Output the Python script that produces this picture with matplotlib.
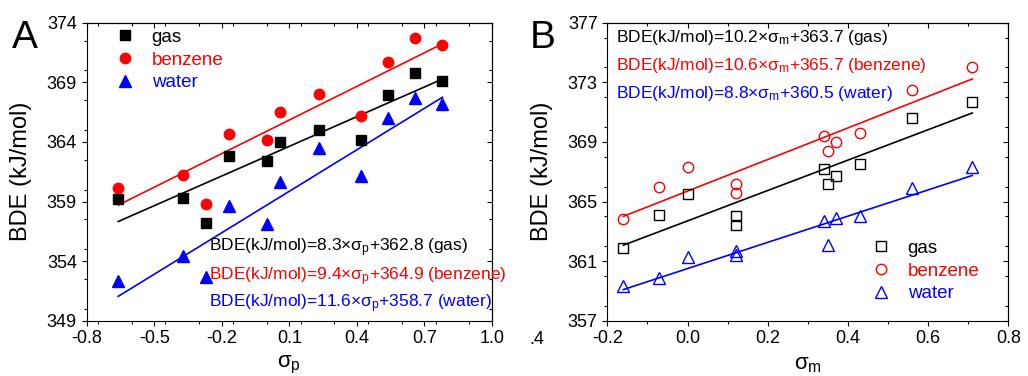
import numpy as np
import matplotlib
matplotlib.use('Agg')
import matplotlib.pyplot as plt
from matplotlib.ticker import MultipleLocator

plt.rcParams['font.family'] = ['Liberation Sans', 'DejaVu Sans']
plt.rcParams['mathtext.default'] = 'regular'

# Panel A: para substituents (sigma_p)
sigma_p = [-0.66, -0.37, -0.27, -0.17, 0.00, 0.06, 0.23, 0.42, 0.54, 0.66, 0.78]
gas_A = [359.2, 359.3, 357.2, 362.8, 362.4, 364.0, 365.0, 364.2, 367.9, 369.8, 369.1]
benz_A = [360.1, 361.2, 358.8, 364.7, 364.2, 366.5, 368.0, 366.2, 370.7, 372.7, 372.1]
water_A = [352.3, 354.4, 352.7, 358.6, 357.1, 360.6, 363.5, 361.1, 366.0, 367.7, 367.2]
fit_A = {'gas': (8.3, 362.8), 'benzene': (9.4, 364.9), 'water': (11.6, 358.7)}

# Panel B: meta substituents (sigma_m)
sigma_m = [-0.16, -0.07, 0.00, 0.12, 0.12, 0.34, 0.35, 0.37, 0.43, 0.56, 0.71]
gas_B = [361.9, 364.1, 365.5, 364.0, 363.4, 367.2, 366.2, 366.7, 367.5, 370.6, 371.7]
benz_B = [363.8, 366.0, 367.3, 366.2, 365.6, 369.4, 368.4, 369.0, 369.6, 372.5, 374.0]
water_B = [359.3, 359.9, 361.3, 361.7, 361.4, 363.7, 362.1, 363.9, 364.0, 365.9, 367.3]
fit_B = {'gas': (10.2, 363.7), 'benzene': (10.6, 365.7), 'water': (8.8, 360.5)}

names = ['gas', 'benzene', 'water']
colors = ['black', 'red', 'blue']


def style_axes(ax, xlim, ylim, xmaj, ymaj):
    ax.set_xlim(xlim)
    ax.set_ylim(ylim)
    ax.xaxis.set_minor_locator(MultipleLocator(xmaj / 2))
    ax.yaxis.set_minor_locator(MultipleLocator(ymaj / 2))
    ax.set_xticks(np.arange(xlim[0], xlim[1] + 1e-6, xmaj))
    ax.set_yticks(np.arange(ylim[0], ylim[1] + 1e-6, ymaj))
    ax.tick_params(which='major', direction='out', length=3.5, width=0.8, labelsize=13)
    ax.tick_params(which='minor', direction='out', length=2, width=0.8)
    for s in ax.spines.values():
        s.set_linewidth(0.8)
    # top and right ticks point inwards
    top = ax.secondary_xaxis('top')
    top.set_xticks(ax.get_xticks())
    top.xaxis.set_minor_locator(MultipleLocator(xmaj / 2))
    top.tick_params(which='both', direction='in', labeltop=False)
    top.tick_params(which='major', length=3.5, width=0.8)
    top.tick_params(which='minor', length=2, width=0.8)
    right = ax.secondary_yaxis('right')
    right.set_yticks(ax.get_yticks())
    right.yaxis.set_minor_locator(MultipleLocator(ymaj / 2))
    right.tick_params(which='both', direction='in', labelright=False)
    right.tick_params(which='major', length=3.5, width=0.8)
    right.tick_params(which='minor', length=2, width=0.8)


fig = plt.figure(figsize=(10.28, 3.76), dpi=100)
axA = fig.add_axes([0.0843, 0.147, 0.3943, 0.7926])
axB = fig.add_axes([0.5908, 0.147, 0.3901, 0.7926])

# ---- Panel A ----
xs = np.array([min(sigma_p), max(sigma_p)])
for name, c in zip(names, colors):
    k, b = fit_A[name]
    axA.plot(xs, k * xs + b, color=c, lw=1.2, zorder=2)
axA.plot(sigma_p, gas_A, 's', color='black', ms=7, ls='none', label='gas', zorder=3)
axA.plot(sigma_p, benz_A, 'o', color='red', ms=7.5, ls='none', label='benzene', zorder=3)
axA.plot(sigma_p, water_A, '^', color='blue', ms=8.5, ls='none', label='water', zorder=3)
style_axes(axA, (-0.8, 1.0), (349, 374), 0.3, 5)
axA.set_xticklabels(['-0.8', '-0.5', '-0.2', '0.1', '0.4', '0.7', '1.0'])
axA.legend(loc='upper left', bbox_to_anchor=(0.0565, 0.98), frameon=False, fontsize=13.5,
           handlelength=1.6, handletextpad=0.65, labelspacing=0.3, borderpad=0,
           borderaxespad=0, labelcolor=colors)
eqA = [r'BDE(kJ/mol)=8.3$\times\sigma_p$+362.8 (gas)',
       r'BDE(kJ/mol)=9.4$\times\sigma_p$+364.9 (benzene)',
       r'BDE(kJ/mol)=11.6$\times\sigma_p$+358.7 (water)']
for txt, c, y in zip(eqA, colors, [0.244, 0.147, 0.056]):
    axA.text(0.302, y, txt, color=c, fontsize=12.5, transform=axA.transAxes,
             va='center', ha='left', clip_on=False)
axA.set_ylabel('BDE (kJ/mol)', fontsize=17)
axA.yaxis.set_label_coords(-0.135, 0.5)
axA.set_xlabel(r'$\sigma_p$', fontsize=16, va='top')
axA.xaxis.set_label_coords(0.5, -0.11)
fig.text(12 / 1028, 1 - 20 / 376, 'A', fontsize=28, va='top', ha='left')

# ---- Panel B ----
xs = np.array([min(sigma_m), max(sigma_m)])
for name, c in zip(names, colors):
    k, b = fit_B[name]
    axB.plot(xs, k * xs + b, color=c, lw=1.2, zorder=2)
axB.plot(sigma_m, gas_B, 's', mfc='none', mec='black', mew=1, ms=6.5, ls='none', label='gas', zorder=3)
axB.plot(sigma_m, benz_B, 'o', mfc='none', mec='red', mew=1, ms=7.5, ls='none', label='benzene', zorder=3)
axB.plot(sigma_m, water_B, '^', mfc='none', mec='blue', mew=1, ms=8.5, ls='none', label='water', zorder=3)
style_axes(axB, (-0.2, 0.8), (357, 377), 0.2, 4)
axB.set_xticklabels(['-0.2', '0.0', '0.2', '0.4', '0.6', '0.8'])
axB.legend(loc='upper left', bbox_to_anchor=(0.646, 0.272), frameon=False, fontsize=13.5,
           handlelength=1.6, handletextpad=0.6, labelspacing=0.3, borderpad=0,
           borderaxespad=0, labelcolor=colors)
eqB = [r'BDE(kJ/mol)=10.2$\times\sigma_m$+363.7 (gas)',
       r'BDE(kJ/mol)=10.6$\times\sigma_m$+365.7 (benzene)',
       r'BDE(kJ/mol)=8.8$\times\sigma_m$+360.5 (water)']
for txt, c, y in zip(eqB, colors, [0.952, 0.858, 0.764]):
    axB.text(0.0217, y, txt, color=c, fontsize=12.5, transform=axB.transAxes,
             va='center', ha='left')
axB.set_ylabel('BDE (kJ/mol)', fontsize=17)
axB.yaxis.set_label_coords(-0.135, 0.5)
axB.set_xlabel(r'$\sigma_m$', fontsize=16, va='top')
axB.xaxis.set_label_coords(0.5, -0.11)
fig.text(530 / 1028, 1 - 20 / 376, 'B', fontsize=28, va='top', ha='left')

# leftover fragment between the panels in the original image
fig.text(537 / 1028, 1 - 340 / 376, '.4', fontsize=13, va='center', ha='center')

fig.savefig('out.png', dpi=100)
